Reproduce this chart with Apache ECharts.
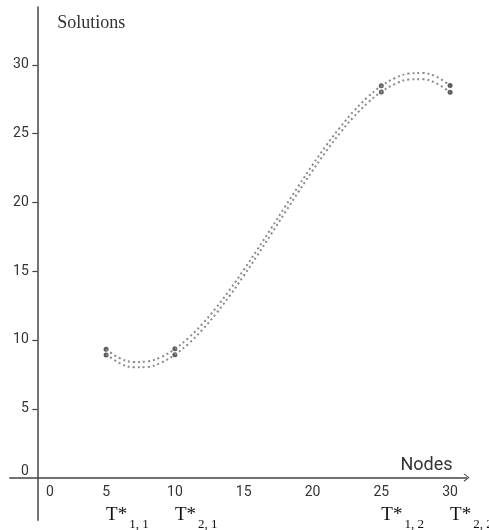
<!DOCTYPE html>
<html><head><meta charset="utf-8">
<script src="https://cdn.jsdelivr.net/npm/echarts@6/dist/echarts.min.js"></script>
<style>html,body{margin:0;padding:0;background:#fff}#c{width:489px;height:530px}</style>
</head><body><div id="c"></div>
<script>
// x positions (nodes) sampled along the curves
const nodesX = [5,6,7,8,9,10,11,12,13,14,15,16,17,18,19,20,21,22,23,24,25,26,27,28,29,30];
// upper dotted curve
const solutionUpper = [9.30,8.67,8.40,8.44,8.76,9.35,10.16,11.17,12.35,13.67,15.09,16.58,18.12,19.68,21.22,22.72,24.14,25.45,26.63,27.64,28.45,29.04,29.36,29.40,29.13,28.50];
// lower dotted curve
const solutionLower = [8.96,8.31,8.01,8.04,8.35,8.93,9.74,10.75,11.92,13.24,14.66,16.16,17.70,19.26,20.80,22.30,23.72,25.04,26.22,27.22,28.03,28.61,28.93,28.95,28.65,28.00];
// marked nodes
const markX = [5,10,25,30];
const markUpper = [9.32,9.37,28.47,28.50];
const markLower = [8.90,8.92,28.03,28.00];
// tick labels
const xTicks = [0,5,10,15,20,25,30];
const yTicks = [0,5,10,15,20,25,30];
const tStarX = [5,10,25,30];
const tStarSub = ['1, 1','2, 1','1, 2','2, 2'];

const axisColor = '#444';
const chart = echarts.init(document.getElementById('c'), null, {renderer:'canvas'});
const xRange = {min:-2, max:31.2};
chart.setOption({
  animation:false,
  backgroundColor:'#fff',
  grid:{left:9.8, right:22.4, top:7, bottom:9.8, outerBoundsMode:'none', containLabel:false},
  xAxis:[{
    type:'value', min:xRange.min, max:xRange.max,
    name:'Nodes', nameLocation:'end', nameGap:-14, nameMoveOverlap:false,
    nameTextStyle:{fontFamily:'Roboto', fontSize:18, color:'#333', align:'right', verticalAlign:'bottom', padding:[0,0,3,0]},
    axisLine:{show:true, onZero:true, onZeroAxisIndex:0, symbol:['none','path://M4.5,0 L9,6 L8,6.6 L4.5,1.7 L1,6.6 L0,6 Z'], symbolSize:[9,6], lineStyle:{color:axisColor, width:1.5}},
    axisTick:{show:false},
    splitLine:{show:false},
    axisLabel:{
      customValues:xTicks, margin:-35, fontFamily:'Roboto', fontSize:14, color:'#333',
      formatter:v => v===0 ? '{z|0}' : String(v),
      rich:{z:{fontFamily:'Roboto', fontSize:14, color:'#333', padding:[0,0,0,25]}}
    }
  },{
    type:'value', min:xRange.min, max:xRange.max, position:'bottom', offset:-19,
    axisLine:{show:false, onZero:false}, axisTick:{show:false}, splitLine:{show:false},
    axisLabel:{
      customValues:tStarX, margin:9, align:'left', verticalAlign:'top',
      formatter:v => { const i = tStarX.indexOf(v); return i<0 ? '' : '{t|T*}{s|' + tStarSub[i] + '}'; },
      rich:{
        t:{fontFamily:'Liberation Serif', fontSize:19, lineHeight:22, color:'#111', padding:[0,0,12,0]},
        s:{fontFamily:'Liberation Serif', fontSize:13, lineHeight:13, color:'#111', padding:[14,0,7,2]}
      }
    }
  }],
  yAxis:[{
    type:'value', min:-3.1, max:34.2,
    name:'Solutions', nameLocation:'end', nameGap:-16, nameMoveOverlap:false,
    nameTextStyle:{fontFamily:'Liberation Serif', fontSize:18, color:'#333', align:'left', verticalAlign:'middle', padding:[0,0,0,20]},
    axisLine:{show:true, onZero:true, onZeroAxisIndex:0, lineStyle:{color:axisColor, width:1.5}},
    axisTick:{show:true, customValues:[5,10,15,20,25,30], length:5, inside:false, lineStyle:{color:axisColor, width:1.2}},
    splitLine:{show:false},
    axisLabel:{
      customValues:yTicks, margin:-19, fontFamily:'Roboto', fontSize:14, color:'#333',
      formatter:v => v===0 ? '{z|0}' : String(v),
      rich:{z:{fontFamily:'Roboto', fontSize:14, color:'#333', padding:[0,0,12,0]}}
    }
  }],
  series:[
    {type:'line', xAxisIndex:0, data:nodesX.map((x,i)=>[x,solutionUpper[i]]), smooth:0.4, showSymbol:false, silent:true,
     lineStyle:{color:'#8a8a8a', width:2, type:[2,3], cap:'butt'}},
    {type:'line', xAxisIndex:0, data:nodesX.map((x,i)=>[x,solutionLower[i]]), smooth:0.4, showSymbol:false, silent:true,
     lineStyle:{color:'#8a8a8a', width:2, type:[2,3], cap:'butt'}},
    {type:'scatter', xAxisIndex:0, data:markX.map((x,i)=>[x,markUpper[i]]), symbolSize:5, itemStyle:{color:'#333'}, silent:true},
    {type:'scatter', xAxisIndex:0, data:markX.map((x,i)=>[x,markLower[i]]), symbolSize:5, itemStyle:{color:'#333'}, silent:true}
  ]
});
</script></body></html>
